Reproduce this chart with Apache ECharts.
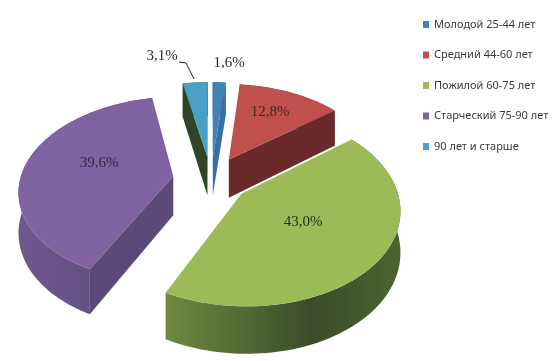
<!DOCTYPE html>
<html>
<head>
<meta charset="utf-8">
<style>
html,body{margin:0;padding:0;background:#fff;}
#chart{width:560px;height:361px;}
</style>
<script src="https://cdn.jsdelivr.net/npm/echarts@6/dist/echarts.min.js"></script>
</head>
<body>
<div id="chart"></div>
<script>
var categories = ['Молодой 25-44 лет','Средний 44-60 лет','Пожилой 60-75 лет','Старческий 75-90 лет','90 лет и старше'];
var values = [1.6,12.8,43.0,39.6,3.1];
var labels = ['1,6%','12,8%','43,0%','39,6%','3,1%'];

//颜色: 顶面, 径向侧面, 外弧渐变
var topColors = ['#4283b4','#c0504d','#9bbb59','#7f62a1','#4aa0c6'];
var wallColors = ['#3a6fa6','#6b2a2a','#5a7a38','#5b4a78','#2f4624'];
var arcColors = [['#3a6fa6','#3a6fa6','#3a6fa6'],['#6b2a2a','#6b2a2a','#5c2424'],['#6d8b40','#3c4b2a','#4c6431'],['#6f5990','#62507f','#5b4a78'],['#2f4624','#2f4624','#2f4624']];
var labelColors = ['#2b2b2b','#4a2323','#1f3018','#32284a','#2b2b2b'];
//标签位置(像素)
var labelPos = [[229,63],[270,112],[303,222],[99,163],[162,56]];

//投影参数
var cx = 211, cy = 179, rx = 153, ry = 91.5, persp = 0.145, depth = 39.5, explode = 0.25;

var total = 0;
for(var i=0;i<values.length;i++) total += values[i];

function project(x,y,z){
	var f = 1/(1+persp*y);
	return [cx+rx*x*f, cy-ry*y*f+depth*z*f];
}
function slicePoint(mid,ang,r,z){
	return project(explode*Math.sin(mid)+r*Math.sin(ang), explode*Math.cos(mid)+r*Math.cos(ang), z);
}
function renderSlice(idx){
	var start = 0;
	for(var i=0;i<idx;i++) start += values[i]/total*Math.PI*2;
	var end = start+values[idx]/total*Math.PI*2;
	var mid = (start+end)/2;
	var n = Math.max(4,Math.round((end-start)/0.03));
	var topArc = [], lowArc = [];
	for(var j=0;j<=n;j++){
		var a = start+(end-start)*j/n;
		topArc.push(slicePoint(mid,a,1,0));
		lowArc.push(slicePoint(mid,a,1,1));
	}
	var c0 = slicePoint(mid,0,0,0), c1 = slicePoint(mid,0,0,1);
	var children = [];
	//外弧
	children.push({type:'polygon',shape:{points:topArc.concat(lowArc.slice().reverse())},style:{
		fill:new echarts.graphic.LinearGradient(0,0,1,0,[
			{offset:0,color:arcColors[idx][0]},
			{offset:0.62,color:arcColors[idx][1]},
			{offset:1,color:arcColors[idx][2]}
		])
	}});
	//径向侧面,只画朝向观察者的
	if(topArc[0][0]<c0[0]) children.push({type:'polygon',shape:{points:[c0,topArc[0],lowArc[0],c1]},style:{fill:wallColors[idx]}});
	if(topArc[n][0]>c0[0]) children.push({type:'polygon',shape:{points:[c0,topArc[n],lowArc[n],c1]},style:{fill:wallColors[idx]}});
	//顶面
	children.push({type:'polygon',shape:{points:[c0].concat(topArc)},style:{fill:topColors[idx]}});
	return {type:'group',children:children};
}

var series = [];
for(var k=0;k<categories.length;k++){
	(function(idx){
		series.push({
			name:categories[idx],
			type:'custom',
			coordinateSystem:'none',
			silent:true,
			animation:false,
			itemStyle:{color:topColors[idx]},
			data:[[values[idx]]],
			renderItem:function(){ return renderSlice(idx); }
		});
	})(k);
}
//数据标签放最上层
series.push({
	type:'custom',
	coordinateSystem:'none',
	silent:true,
	animation:false,
	z:5,
	data:labels.map(function(t,i){ return [i]; }),
	renderItem:function(params){
		var i = params.dataIndex;
		return {type:'text',style:{
			x:labelPos[i][0],y:labelPos[i][1],text:labels[i],
			fill:labelColors[i],font:'15px "Liberation Serif"',align:'center',verticalAlign:'middle'
		}};
	}
});
//3,1% 的引导线
series.push({
	type:'custom',
	coordinateSystem:'none',
	silent:true,
	animation:false,
	z:5,
	data:[[0]],
	renderItem:function(){
		return {type:'polyline',shape:{points:[[179,62],[186,63],[194,79]]},style:{fill:null,stroke:'#222',lineWidth:1}};
	}
});

var myChart = echarts.init(document.getElementById('chart'),null,{renderer:'canvas'});
myChart.setOption({
	backgroundColor:'#fff',
	animation:false,
	legend:{
		orient:'vertical',
		left:423,
		top:19,
		padding:0,
		icon:'rect',
		itemWidth:6,
		itemHeight:7,
		itemGap:19.5,
		selectedMode:false,
		data:categories,
		textStyle:{fontFamily:'"Noto Sans"',fontSize:11,color:'#3a3a3a'}
	},
	series:series
});
</script>
</body>
</html>
